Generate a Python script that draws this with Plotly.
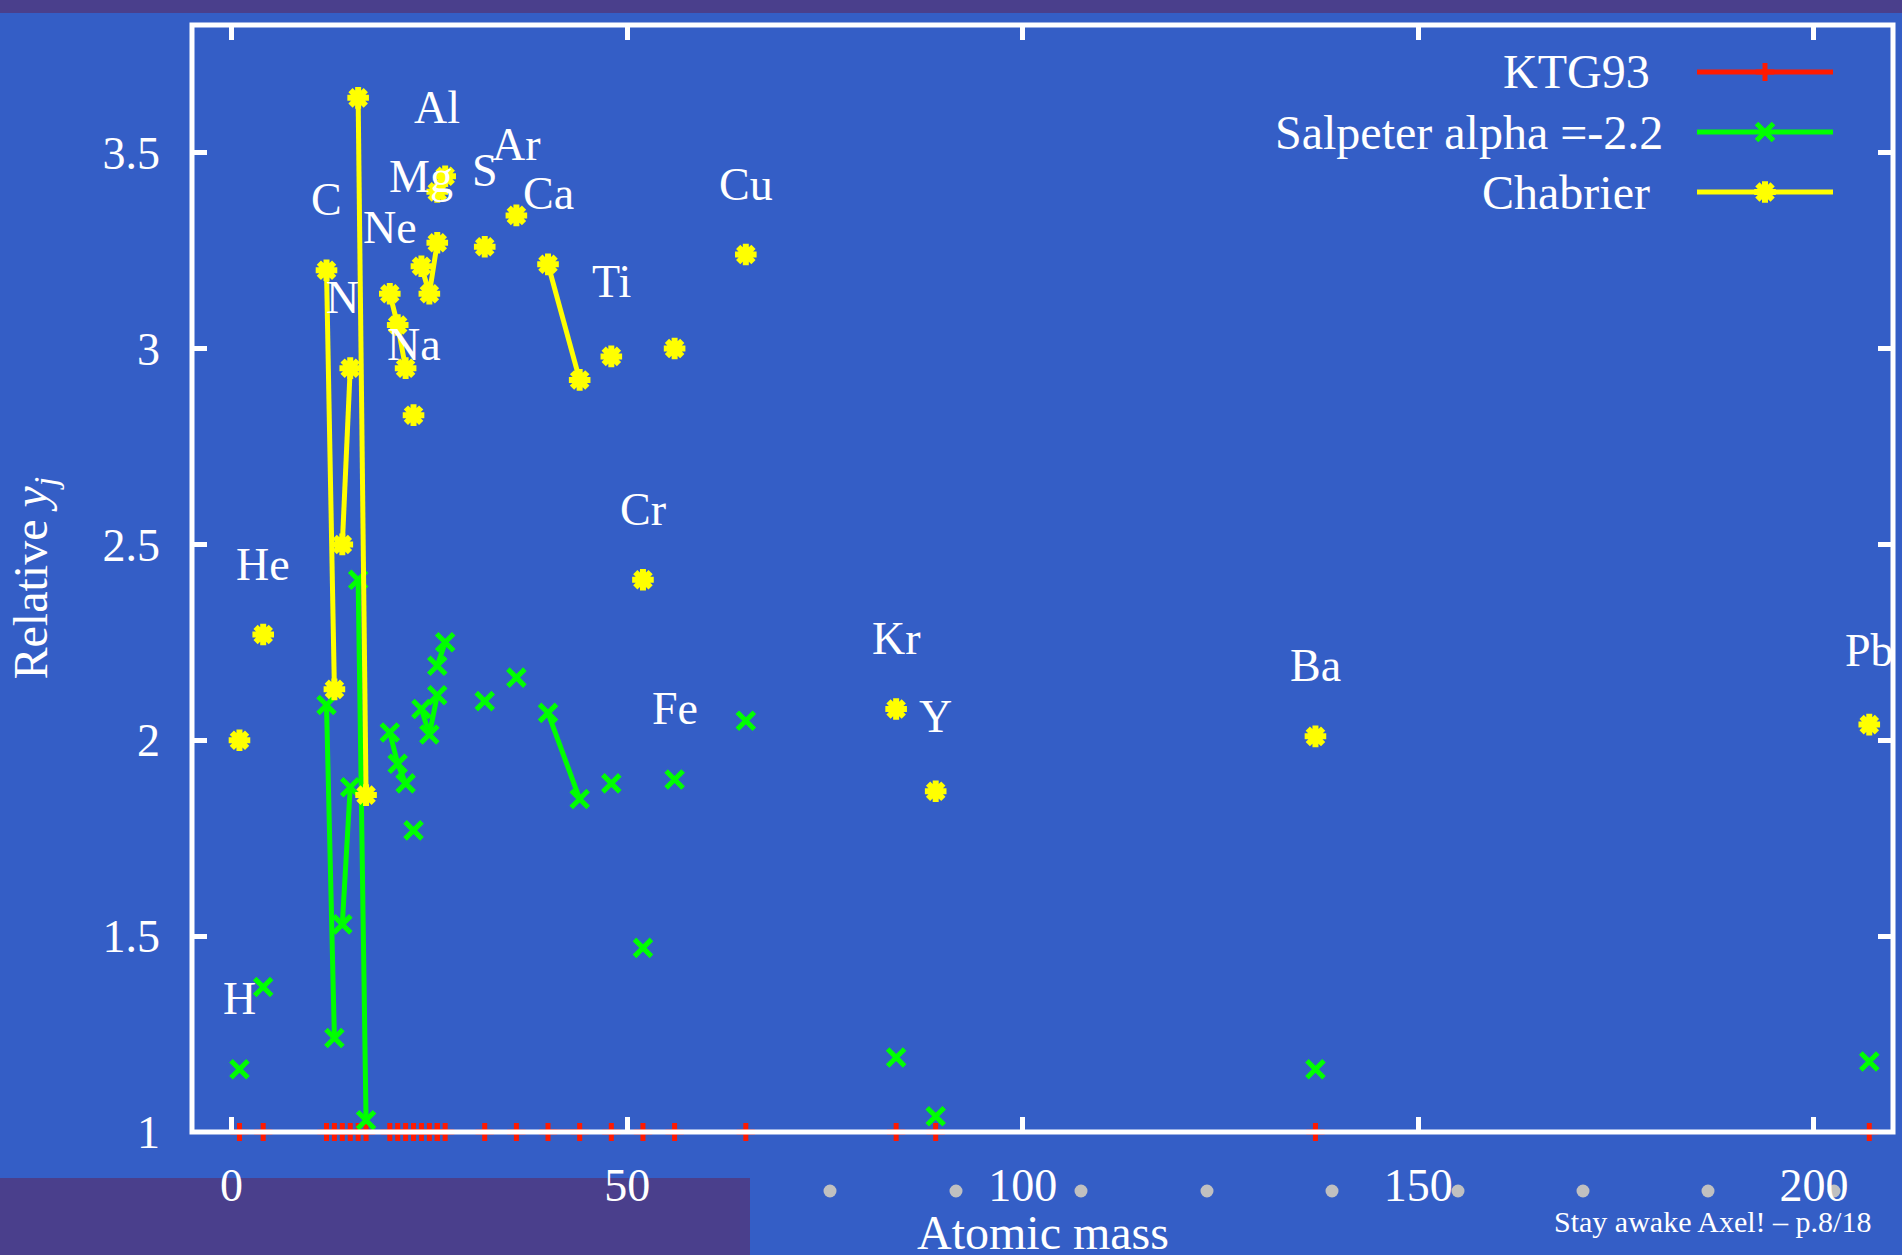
import plotly.graph_objects as go

# ---------------- data ----------------
isotope_mass = [1, 4, 12, 13, 14, 15, 16, 17, 20, 21, 22, 23, 24, 25, 26, 26, 27,
                32, 36, 40, 44, 48, 52, 56, 65, 84, 89, 137, 207]
element = ["H", "He", "C", "C", "N", "N", "O", "O", "Ne", "Ne", "Ne", "Na", "Mg", "Mg", "Mg",
           "Al", "Al", "S", "Ar", "Ca", "Ca", "Ti", "Cr", "Fe", "Cu", "Kr", "Y", "Ba", "Pb"]
ktg93 = [1.0, 1.0, 1.0, 1.0, 1.0, 1.0, 1.0, 1.0, 1.0, 1.0, 1.0, 1.0, 1.0, 1.0, 1.0,
         1.0, 1.0, 1.0, 1.0, 1.0, 1.0, 1.0, 1.0, 1.0, 1.0, 1.0, 1.0, 1.0, 1.0]
salpeter = [1.16, 1.37, 2.09, 1.24, 1.53, 1.88, 2.41, 1.03, 2.02, 1.94, 1.89, 1.77, 2.08, 2.015, 2.115,
            2.19, 2.25, 2.10, 2.16, 2.07, 1.85, 1.89, 1.47, 1.90, 2.05, 1.19, 1.04, 1.16, 1.18]
chabrier = [2.00, 2.27, 3.20, 2.13, 2.50, 2.95, 3.64, 1.86, 3.14, 3.06, 2.95, 2.83, 3.21, 3.14, 3.27,
            3.40, 3.44, 3.26, 3.34, 3.215, 2.92, 2.98, 2.41, 3.00, 3.24, 2.08, 1.87, 2.01, 2.04]

label_text = ["H", "He", "C", "N", "O", "Ne", "Na", "Mg", "Al", "S", "Ar", "Ca", "Ti", "Cr",
              "Fe", "Cu", "Kr", "Y", "Ba", "Pb"]
label_x = [1, 4, 12, 14, 16, 20, 23, 24, 26, 32, 36, 40, 48, 52, 56, 65, 84, 89, 137, 207]
label_y = [1.34, 2.45, 3.38, 3.13, 3.833, 3.31, 3.01, 3.44, 3.615, 3.455, 3.52, 3.395, 3.17, 2.59,
           2.08, 3.42, 2.26, 2.06, 2.19, 2.23]

series_names = ["KTG93", "Salpeter alpha =-2.2", "Chabrier"]
x_ticks = [0, 50, 100, 150, 200]
y_ticks = [1, 1.5, 2, 2.5, 3, 3.5]
y_tick_text = ["1", "1.5", "2", "2.5", "3", "3.5"]

# ---------------- styling / layout constants ----------------
W, H = 1902, 1255
L, R, T, B = 192, 1893, 25, 1132          # plot frame in pixels
BG = "#345ec6"
PURPLE = "#4a3f8c"
RED, GREEN, YELLOW = "#ff1a00", "#00ff00", "#ffff00"
FONT = "Liberation Serif"

SYMBOLS = [("cross-thin-open", 13, 5), ("x-thin-open", 17, 5), ("asterisk-open", 18, 6)]
COLORS = [RED, GREEN, YELLOW]


def px(x, y):
    """pixel position -> paper fraction"""
    return (x - L) / (R - L), (B - y) / (B - T)


def grouped(xs, ys, groups):
    gx, gy, prev = [], [], None
    for x, y, g in zip(xs, ys, groups):
        if prev is not None and g != prev:
            gx.append(None)
            gy.append(None)
        gx.append(x)
        gy.append(y)
        prev = g
    return gx, gy


fig = go.Figure()

for name, vals, col, (sym, sz, lw) in zip(series_names, [ktg93, salpeter, chabrier], COLORS, SYMBOLS):
    gx, gy = grouped(isotope_mass, vals, element)
    fig.add_trace(go.Scatter(x=gx, y=gy, mode="lines+markers", name=name,
                             line=dict(color=col, width=5), cliponaxis=False,
                             marker=dict(symbol=sym, size=sz, color=col,
                                         line=dict(color=col, width=lw))))

# element labels
for t, x, y in zip(label_text, label_x, label_y):
    fig.add_annotation(x=x, y=y, xref="x", yref="y", text=t, showarrow=False,
                       xanchor="center", yanchor="middle",
                       font=dict(family=FONT, size=46, color="white"))

# ---------------- hand-made legend ----------------
legend_rows = [(72, 1652), (132, 1665), (192, 1652)]
for name, (ly, tx), col, (sym, sz, lw) in zip(series_names, legend_rows, COLORS, SYMBOLS):
    fx, fy = px(tx, ly)
    fig.add_annotation(x=fx, y=fy, xref="paper", yref="paper", text=name, showarrow=False,
                       xanchor="right", yanchor="middle",
                       font=dict(family=FONT, size=48, color="white"))
    x0, _ = px(1697, ly)
    x1, _ = px(1833, ly)
    xm, _ = px(1765, ly)
    fig.add_trace(go.Scatter(x=[x0, x1], y=[fy, fy], xaxis="x2", yaxis="y2", mode="lines",
                             line=dict(color=col, width=5), showlegend=False, cliponaxis=False))
    fig.add_trace(go.Scatter(x=[xm], y=[fy], xaxis="x2", yaxis="y2", mode="markers",
                             marker=dict(symbol=sym, size=sz, color=col, line=dict(color=col, width=lw)),
                             showlegend=False, cliponaxis=False))

# ---------------- axis titles & footer ----------------
fx, fy = px(1042, 1232)
fig.add_annotation(x=0.5, y=fy, xref="paper", yref="paper", text="Atomic mass", showarrow=False,
                   xanchor="center", yanchor="middle", font=dict(family=FONT, size=48, color="white"))
fx, fy = px(33, 578)
fig.add_annotation(x=fx, y=0.5, xref="paper", yref="paper",
                   text="Relative <i>y</i><sub><i>j</i></sub>", showarrow=False, textangle=-90,
                   xanchor="center", yanchor="middle", font=dict(family=FONT, size=48, color="white"))
fx, fy = px(1873, 1221)
fig.add_annotation(x=fx, y=fy, xref="paper", yref="paper", text="Stay awake Axel! – p.8/18",
                   showarrow=False, xanchor="right", yanchor="middle",
                   font=dict(family=FONT, size=30, color="white"))

# ---------------- slide decorations ----------------
shapes = []
a0, b0 = px(0, 0)
a1, b1 = px(W, 13)
shapes.append(dict(type="rect", xref="paper", yref="paper", x0=a0, x1=a1, y0=b1, y1=b0,
                   fillcolor=PURPLE, line=dict(width=0), layer="below"))
a0, b0 = px(0, 1178)
a1, b1 = px(750, H)
shapes.append(dict(type="rect", xref="paper", yref="paper", x0=a0, x1=a1, y0=b1, y1=b0,
                   fillcolor=PURPLE, line=dict(width=0), layer="below"))
nav_dot_x = [830, 956, 1081, 1207, 1332, 1458, 1583, 1708, 1834]
for dx in nav_dot_x:
    a0, b0 = px(dx - 6.5, 1191 - 6.5)
    a1, b1 = px(dx + 6.5, 1191 + 6.5)
    shapes.append(dict(type="circle", xref="paper", yref="paper", x0=a0, x1=a1, y0=b1, y1=b0,
                       fillcolor="#c0c0c0", line=dict(width=0), layer="below"))
# plot frame
shapes.append(dict(type="rect", xref="paper", yref="paper", x0=0, x1=1, y0=0, y1=1,
                   line=dict(color="white", width=5), layer="above"))

axis_common = dict(showgrid=False, zeroline=False, showline=False, ticks="inside", ticklen=15,
                   tickwidth=5, tickcolor="white", mirror="ticks",
                   tickfont=dict(family=FONT, size=46, color="white"))

fig.update_layout(
    width=W, height=H, autosize=False,
    margin=dict(l=L, r=W - R, t=T, b=H - B, pad=0),
    paper_bgcolor=BG, plot_bgcolor=BG,
    showlegend=False,
    shapes=shapes,
    xaxis=dict(range=[-5, 210], tickvals=x_ticks, ticklabelstandoff=22, **axis_common),
    yaxis=dict(range=[1, 3.826], tickvals=y_ticks, ticktext=y_tick_text, ticklabelstandoff=31,
               **axis_common),
    xaxis2=dict(overlaying="x", anchor="y2", range=[0, 1], visible=False),
    yaxis2=dict(overlaying="y", anchor="x2", range=[0, 1], visible=False),
)

fig.write_html("out.html")
